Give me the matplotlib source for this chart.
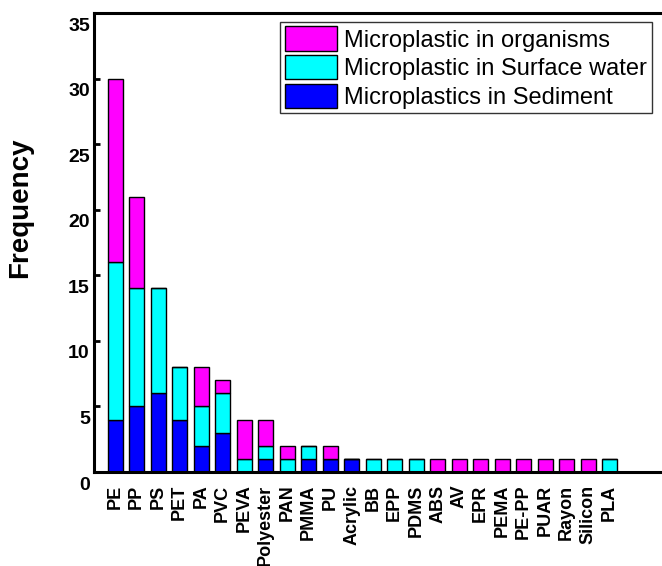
import matplotlib
matplotlib.use("Agg")
import matplotlib.pyplot as plt
import matplotlib.transforms as mtransforms
import numpy as np

plt.rcParams['font.family'] = ['Liberation Sans', 'DejaVu Sans']

polymers = ['PE', 'PP', 'PS', 'PET', 'PA', 'PVC', 'PEVA', 'Polyester', 'PAN', 'PMMA',
            'PU', 'Acrylic', 'BB', 'EPP', 'PDMS', 'ABS', 'AV', 'EPR', 'PEMA', 'PE-PP',
            'PUAR', 'Rayon', 'Silicon', 'PLA']
sediment = [4, 5, 6, 4, 2, 3, 0, 1, 0, 1, 1, 1, 0, 0, 0, 0, 0, 0, 0, 0, 0, 0, 0, 0]
surface_water = [12, 9, 8, 4, 3, 3, 1, 1, 1, 1, 0, 0, 1, 1, 1, 0, 0, 0, 0, 0, 0, 0, 0, 1]
organisms = [14, 7, 0, 0, 3, 1, 3, 2, 1, 0, 1, 0, 0, 0, 0, 1, 1, 1, 1, 1, 1, 1, 1, 0]

yticks = [0, 5, 10, 15, 20, 25, 30, 35]

fig = plt.figure(figsize=(6.62, 5.66), dpi=100)
ax = fig.add_axes([0.142, 0.166, 0.858, 0.811])

x = np.arange(len(polymers))
sed = np.array(sediment)
wat = np.array(surface_water)
org = np.array(organisms)
w = 0.70

b_sed = ax.bar(x, sed, w, color='#0000FF', edgecolor='black', linewidth=1)
b_wat = ax.bar(x, wat, w, bottom=sed, color='#00FFFF', edgecolor='black', linewidth=1)
b_org = ax.bar(x, org, w, bottom=sed + wat, color='#FF00FF', edgecolor='black', linewidth=1)

ax.set_xlim(-0.98, 25.44)
ax.set_ylim(0, 35)
ax.set_yticks(yticks)
ax.set_xticks(x)
ax.set_xticklabels(polymers, rotation=90, fontsize=13, fontweight='bold')
ax.tick_params(axis='x', length=0, pad=9)
ax.tick_params(axis='y', direction='in', length=4, width=2, pad=3, labelsize=14)
for lab in ax.get_yticklabels():
    lab.set_fontweight('bold')

# tick labels sit a little below their ticks in the original
shift = mtransforms.ScaledTranslation(0, -0.11, fig.dpi_scale_trans)
for t in ax.yaxis.get_major_ticks():
    t.label1.set_transform(t.label1.get_transform() + shift)

for side in ['left', 'bottom', 'top']:
    ax.spines[side].set_linewidth(2.2)
ax.spines['right'].set_visible(False)

ax.set_ylabel('Frequency', fontsize=20, fontweight='bold')
ax.yaxis.set_label_coords(-0.107, 0.575)

leg = ax.legend([b_org, b_wat, b_sed],
                ['Microplastic in organisms', 'Microplastic in Surface water',
                 'Microplastics in Sediment'],
                loc='upper left', bbox_to_anchor=(0.328, 0.981), fontsize=17,
                frameon=True, fancybox=False, handlelength=2.2, handleheight=1.2,
                labelspacing=0.15, handletextpad=0.3, borderpad=0.2, borderaxespad=0)
leg.get_frame().set_edgecolor('black')
leg.get_frame().set_linewidth(1)

fig.savefig('out.png', dpi=100)
